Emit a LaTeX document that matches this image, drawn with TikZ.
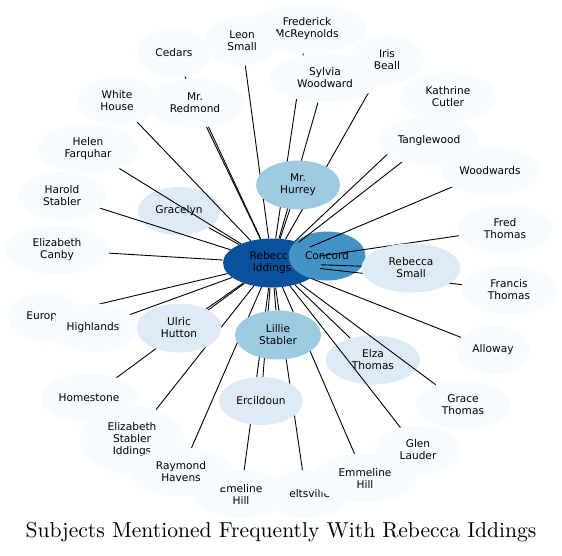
\documentclass[tikz,border=0pt]{standalone}
\usepackage{fontspec}
\newfontfamily\labelfont{DejaVu Sans}
\newfontfamily\titlefont{lmroman10-regular.otf}
\usetikzlibrary{shapes.geometric}
\definecolor{blue0}{HTML}{F7FBFF}
\definecolor{blue1}{HTML}{DEEBF7}
\definecolor{blue2}{HTML}{9ECAE1}
\definecolor{blue3}{HTML}{4292C6}
\definecolor{blue4}{HTML}{08519C}
\pgfdeclarelayer{under}
\pgfdeclarelayer{over}
\pgfsetlayers{under,main,over}

\begin{document}
\begin{tikzpicture}[x=1pt,y=-1pt]
 % styles
  \tikzstyle{sujet}=[ellipse,fill=blue0,inner sep=0pt,minimum height=49pt,align=center,font=\labelfont\fontsize{10.6}{12}\selectfont]
  \tikzstyle{sujetA}=[sujet,fill=blue1]
  \tikzstyle{sujetB}=[sujet,fill=blue2]
  \tikzstyle{sujetC}=[sujet,fill=blue3]
  \tikzstyle{centre}=[sujet,fill=blue4]
  \tikzstyle{lien}=[black,line width=0.9pt]
  \useasboundingbox (0,0) rectangle (562,555);
 % the nodes lying under the links
  \begin{pgfonlayer}{under}
  \node[sujet,minimum width=120pt] (fm) at (307,29) {Frederick\\McReynolds};
  \node[sujet,minimum width=75pt] (ls) at (242,41) {Leon\\Small};
  \node[sujet,minimum width=74pt] (ce) at (174,53) {Cedars};
  \node[sujet,minimum width=73pt] (ib) at (387,60) {Iris\\Beall};
  \node[sujet,minimum width=96pt] (kc) at (448,97) {Kathrine\\Cutler};
  \node[sujet,minimum width=99pt] (ww) at (490,171) {Woodwards};
  \node[sujet,minimum width=80pt] (wh) at (117,101) {White\\House};
  \node[sujet,minimum width=102pt] (hf) at (88,149) {Helen\\Farquhar};
  \node[sujet,minimum width=88pt] (hs) at (62,196) {Harold\\Stabler};
  \node[sujetA,minimum width=82pt,minimum height=48pt] (gr) at (179,211) {Gracelyn};
  \node[sujet,minimum width=104pt] (ec) at (57,250) {Elizabeth\\Canby};
  \node[sujet,minimum width=95pt] (ft) at (505,229) {Fred\\Thomas};
  \node[sujet,minimum width=96pt] (fr) at (509,290) {Francis\\Thomas};
  \node[sujet,minimum width=74pt] (eu) at (45,317) {Europe};
  \node[sujet,minimum width=74pt] (al) at (493,350) {Alloway};
  \node[sujetA,minimum width=94pt] (et) at (373,360) {Elza\\Thomas};
  \node[sujet,minimum width=97pt] (ho) at (89,398) {Homestone};
  \node[sujet,minimum width=95pt] (gt) at (463,405) {Grace\\Thomas};
  \node[sujet,minimum width=104pt,minimum height=68pt] (es) at (132,440) {Elizabeth\\Stabler\\Iddings};
  \node[sujet,minimum width=85pt] (gl) at (418,450) {Glen\\Lauder};
  \node[sujet,minimum width=88pt,minimum height=48pt] (be) at (306,494) {Beltsville};
  \node[sujet,minimum width=96pt,minimum height=48pt] (em) at (241,494) {Emeline\\Hill};
  \node[sujet,minimum width=104pt] (rh) at (181,472) {Raymond\\Havens};
  \node[sujet,minimum width=104pt] (eh) at (365,478) {Emmeline\\Hill};
  \node[centre,minimum width=98pt] (ri) at (272,263) {Rebecca\\Iddings};
  \node[sujetC,minimum width=77pt] (co) at (327,256) {Concord};
  \end{pgfonlayer}
 % the nodes lying over the links
  \begin{pgfonlayer}{over}
  \node[sujet,minimum width=100pt] (mr) at (195,103) {Mr.\\Redmond};
  \node[sujet,minimum width=110pt] (sw) at (325,78) {Sylvia\\Woodward};
  \node[sujetB,minimum width=84pt] (mh) at (298,185) {Mr.\\Hurrey};
  \node[sujet,minimum width=100pt] (tw) at (429,141) {Tanglewood};
  \node[sujetA,minimum width=99pt] (rs) at (411,268) {Rebecca\\Small};
  \node[sujet,minimum width=87pt] (hl) at (93,328) {Highlands};
  \node[sujetA,minimum width=85pt] (uh) at (179,328) {Ulric\\Hutton};
  \node[sujetB,minimum width=86pt] (ln) at (278,335) {Lillie\\Stabler};
  \node[sujetA,minimum width=84pt,minimum height=48pt] (er) at (261,401) {Ercildoun};
  \end{pgfonlayer}
 % the links
  \foreach \s in {fm,ls,ce,ib,sw,kc,tw,ww,wh,mr,hf,hs,gr,mh,ec,ft,rs,fr,eu,hl,uh,ln,et,al,ho,er,gt,es,gl,rh,eh,em,be}
    \draw[lien] (ri) -- (\s);
 % the title
  \node[font=\titlefont\fontsize{21.6}{26}\selectfont] (titre) at (281,532) {Subjects Mentioned Frequently With Rebecca Iddings};
\end{tikzpicture}
\end{document}
